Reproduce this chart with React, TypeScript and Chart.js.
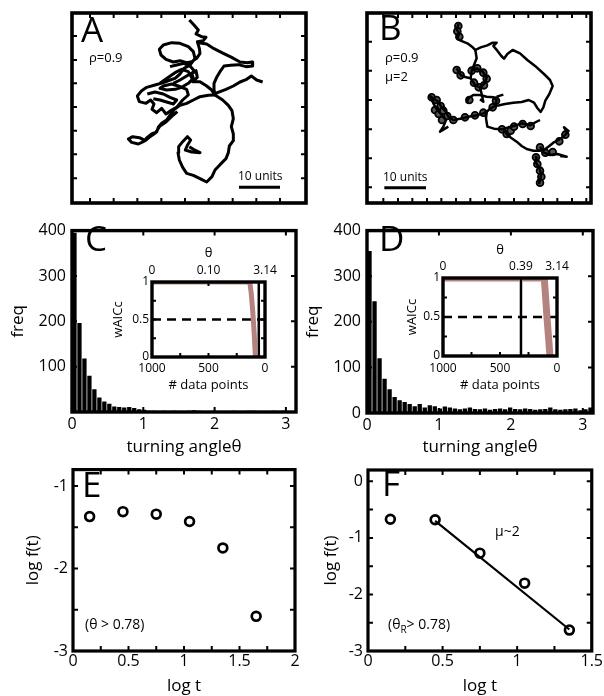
import React, { useEffect, useRef } from 'react';
import { Chart, registerables } from 'chart.js';

Chart.register(...registerables);

const FONT = "'Open Sans', 'Noto Sans', 'DejaVu Sans', sans-serif";
const BROWN = '#b5837f';
Chart.defaults.font.family = FONT;
Chart.defaults.color = '#000';

// ---------------- Panel A: track (image units, y grows downward) ----------------
const trackA1 = [[388,60],[402,75],[415,90],[408,102],[425,110],[438,112],[430,122],[412,125],[418,145],[420,160],[410,175],[395,185],[380,188],[360,182],[340,186],[318,178],[303,165],[298,148],[310,135],[335,128],[360,130],[385,140],[400,155],[405,175],[390,195],[372,205],[360,222],[345,235],[330,240],[310,248],[285,255],[260,262],[245,272],[232,288],[238,305],[258,310],[272,300],[282,312],[276,328],[290,338],[305,325],[318,342],[335,330],[350,322],[368,300],[385,285],[380,268],[355,258],[335,252],[310,258],[300,265],[320,270],[345,268],[365,262],[385,250],[400,235],[395,220],[408,212],[412,232],[398,245],[420,245],[440,258],[455,270],[462,282],[480,275],[498,268],[520,258],[540,246],[560,238],[574,228],[590,240],[608,246]];
const trackA2 = [[415,128],[440,132],[462,146],[490,160],[515,172],[540,186],[562,188],[576,186],[578,198],[558,200],[535,194],[512,196],[492,198],[480,215],[470,232],[462,250],[462,268],[465,285]];
const trackA3 = [[465,285],[445,286],[420,290],[400,300],[380,310],[360,316],[345,326],[330,345],[320,360],[305,370],[295,382],[290,396],[275,402],[262,412],[250,425],[235,432],[215,427],[205,417],[218,410],[238,413],[256,422],[270,410],[285,400],[300,378],[318,366],[340,345],[352,335]];
const trackA4 = [[465,285],[488,300],[505,316],[516,332],[520,356],[514,380],[520,402],[520,422],[508,438],[505,458],[498,476],[480,494],[465,510],[456,530],[440,546],[420,536],[400,526],[380,520],[368,502],[358,480],[354,458],[356,440],[368,425],[382,410],[392,420],[382,436],[376,450],[395,456],[420,458],[400,448],[388,440]];
const trackA5 = [[300,250],[322,234],[345,218],[365,208],[385,215],[398,238]];
const trackA6 = [[330,200],[350,195],[372,190],[392,200],[405,215],[385,225],[360,240],[340,250]];
const trackA7 = [[262,282],[285,276],[310,282],[330,292],[350,300],[340,312],[320,306],[300,300],[280,296]];
const scaleBarA = [[537,562],[660,562]];
const ticksAx = [90,161,232,304,375,446,518,589,660];
const ticksAy = [108,180,250,321,392,463,535];

// ---------------- Panel B: track with pauses ----------------
const trackB1 = [[356,72],[350,88],[358,100],[352,115],[362,122],[382,130],[398,142],[406,150],[422,142],[442,136],[458,128],[470,128],[460,138],[472,152],[484,168],[492,176],[502,162],[518,150],[540,160],[562,180],[590,202],[612,222],[630,240],[638,258],[628,282],[616,302],[610,322],[602,336],[592,324],[582,308],[566,300],[545,306],[520,308],[495,312],[478,316],[465,318]];
const trackB2 = [[406,150],[410,175],[402,195],[395,212],[392,235],[405,255],[420,262],[434,250],[440,232],[428,215],[410,205],[395,212]];
const trackB3 = [[420,262],[425,282],[430,305],[420,298]];
const trackB4 = [[350,205],[362,225],[378,232],[392,235]];
const trackB5 = [[465,318],[452,325],[440,335],[430,340],[410,346],[385,350],[360,356],[340,360],[325,350],[318,335],[305,322],[295,305],[280,295],[270,288],[280,310],[292,330],[305,345],[318,360],[310,380],[300,395],[325,380]];
const trackB6 = [[465,318],[470,300],[460,292],[440,290],[420,285],[400,285],[385,295],[380,310]];
const trackB7 = [[440,335],[438,355],[442,380],[462,386],[485,388],[505,382],[522,378],[545,370],[570,376],[588,366],[600,360]];
const trackB8 = [[490,388],[500,402],[515,415],[530,425],[545,438],[560,447],[580,452],[600,452],[615,448],[628,438],[640,428],[655,420],[670,410],[682,398],[672,382],[688,395]];
const trackB9 = [[600,440],[612,458],[630,465],[652,462],[680,470],[660,468]];
const trackB10 = [[590,470],[588,488],[598,505],[604,522],[600,540],[598,550],[595,538]];
const trackB11 = [[470,290],[490,284]];
const loopsB = [[355,78],[352,94],[358,110],[350,210],[362,226],[395,212],[412,205],[430,218],[440,236],[432,256],[416,262],[402,248],[275,292],[290,300],[302,318],[285,330],[296,342],[310,332],[322,348],[306,360],[340,360],[375,352],[405,346],[430,338],[458,322],[468,302],[388,300],[486,388],[500,402],[512,392],[522,380],[548,372],[572,378],[600,442],[616,458],[638,456],[658,424],[676,404],[588,472],[592,492],[600,512],[604,530],[600,548]];
const scaleBarB = [[133,563],[258,563]];
const ticksBx = [130,174,217,261,304,348,391,435,478,522,565,609,652,696,739];
const ticksBy = [125,212,300,388,475,562];

// ---------------- Panels C, D: turning-angle histograms ----------------
const thetaMax = Math.PI;
const histC = [395,196,118,80,50,32,23,18,12,11,10,11,9,6,5,3,3,2,3,2,3,2,2,3,4,3,2,2,3,2,2,2,3,2,2,3,3,2,2,2,3,2,3,2,2];
const histD = [355,245,120,75,52,35,28,24,20,15,20,12,17,15,10,14,12,10,8,10,12,9,8,10,7,9,10,8,12,9,8,10,9,7,8,9,12,8,7,8,9,10,6,8,12];

// insets: wAICc vs # data points
const insetBrownC = [[1000,1],[135,1],[122,0.85],[108,0.6],[95,0.3],[85,0]];
const insetCutC = 55;
const topTickValsC = [1000, 500, 0];
const topTickLabelsC = ['0', '0.10', '3.14'];
const insetBrownD = [[1000,1],[112,1],[102,0.8],[88,0.5],[72,0.2],[62,0]];
const insetCutD = 316;
const topTickValsD = [1000, 316, 0];
const topTickLabelsD = ['0', '0.39', '3.14'];

// ---------------- Panels E, F: log f(t) vs log t ----------------
const logtE = [0.15, 0.45, 0.75, 1.05, 1.35, 1.65];
const logfE = [-1.37, -1.31, -1.34, -1.43, -1.75, -2.58];
const logtF = [0.15, 0.45, 0.75, 1.05, 1.35];
const logfF = [-0.67, -0.68, -1.27, -1.80, -2.63];
const fitF = [[0.45, -0.70], [1.35, -2.62]];

// ---------------- helpers ----------------
type Rect = { x: number; y: number; w: number; h: number };
const pts = (a: number[][]) => a.map(([x, y]) => ({ x, y }));
const noGrid = { display: false, drawTicks: false };
const noBorder = { display: false };
const fixed = (size: number) => (s: any) => { if (s.isHorizontal()) s.height = size; else s.width = size; };
const setTicks = (vals: number[]) => (s: any) => { s.ticks = vals.map((v) => ({ value: v })); };
const font = (size: number) => ({ size, family: FONT });

function framePlugin(sides: any, width = 3, tickLen = 5) {
  return {
    id: 'frame',
    afterDatasetsDraw(chart: any) {
      const { ctx, chartArea: a, scales } = chart;
      ctx.save();
      ctx.strokeStyle = '#000';
      ctx.lineWidth = 2;
      ctx.beginPath();
      for (const side of ['bottom', 'top', 'left', 'right']) {
        const id = sides[side];
        if (!id) continue;
        const s = scales[id];
        for (const t of s.ticks) {
          const p = s.getPixelForValue(t.value);
          if (side === 'bottom' || side === 'top') {
            if (p < a.left + 2 || p > a.right - 2) continue;
            const y0 = side === 'bottom' ? a.bottom : a.top;
            ctx.moveTo(p, y0);
            ctx.lineTo(p, side === 'bottom' ? y0 - tickLen : y0 + tickLen);
          } else {
            if (p < a.top + 2 || p > a.bottom - 2) continue;
            const x0 = side === 'left' ? a.left : a.right;
            ctx.moveTo(x0, p);
            ctx.lineTo(side === 'left' ? x0 + tickLen : x0 - tickLen, p);
          }
        }
      }
      ctx.stroke();
      ctx.lineWidth = width;
      ctx.lineJoin = 'miter';
      ctx.strokeRect(a.left, a.top, a.right - a.left, a.bottom - a.top);
      ctx.restore();
    },
  };
}

type Part = { t: string; size: number; dy?: number };
type Label = { x: number; y: number; parts: Part[] };
const L = (x: number, y: number, t: string, size: number): Label => ({ x, y, parts: [{ t, size }] });

function textPlugin(items: Label[], rect: Rect) {
  return {
    id: 'texts',
    afterDraw(chart: any) {
      const ctx = chart.ctx;
      ctx.save();
      ctx.fillStyle = '#000';
      ctx.textBaseline = 'alphabetic';
      ctx.textAlign = 'left';
      for (const it of items) {
        let x = it.x - rect.x;
        const y = it.y - rect.y;
        for (const p of it.parts) {
          ctx.font = `${p.size}px ${FONT}`;
          ctx.fillText(p.t, x, y + (p.dy || 0));
          x += ctx.measureText(p.t).width;
        }
      }
      ctx.restore();
    },
  };
}

function baseOptions(padding: any) {
  return {
    responsive: false,
    maintainAspectRatio: false,
    animation: false,
    devicePixelRatio: 1,
    events: [],
    layout: { padding },
    plugins: { legend: { display: false }, tooltip: { enabled: false }, title: { display: false } },
  };
}

const lineDs = (data: number[][], width: number, extra: any = {}) => ({
  type: 'line',
  data: pts(data),
  borderColor: '#000',
  borderWidth: width,
  pointRadius: 0,
  tension: 0,
  fill: false,
  borderJoinStyle: 'round',
  ...extra,
});

function hiddenAxis(min: number, max: number, ticks: number[], reverse = false) {
  return {
    type: 'linear', min, max, reverse,
    grid: noGrid, border: noBorder,
    ticks: { display: false },
    afterBuildTicks: setTicks(ticks),
    afterFit: fixed(0),
  };
}

// ---------------- configs ----------------
const rectA: Rect = { x: 60, y: 0, w: 260, h: 215 };
const rectB: Rect = { x: 340, y: 0, w: 264, h: 215 };
const rectC: Rect = { x: 0, y: 215, w: 302, h: 243 };
const rectD: Rect = { x: 300, y: 215, w: 304, h: 243 };
const rectIC: Rect = { x: 100, y: 240, w: 190, h: 155 };
const rectID: Rect = { x: 390, y: 236, w: 190, h: 158 };
const rectE: Rect = { x: 0, y: 455, w: 304, h: 241 };
const rectF: Rect = { x: 300, y: 455, w: 304, h: 241 };

function trackConfig(rect: Rect, strands: number[][][], bar: number[][], loops: number[][] | null, xr: number[], tx: number[], ty: number[], pad: any, labels: Label[], lw: number) {
  const datasets: any[] = strands.map((s) => lineDs(s, lw));
  datasets.push(lineDs(bar, 3, { borderCapStyle: 'butt' }));
  if (loops) {
    datasets.push({
      type: 'line', data: pts(loops), showLine: false,
      pointRadius: 3.4, pointBorderWidth: 1.8, pointBorderColor: '#000', pointBackgroundColor: '#555',
    });
  }
  return {
    type: 'line',
    data: { datasets },
    options: {
      ...baseOptions(pad),
      scales: { x: hiddenAxis(xr[0], xr[1], tx), y: hiddenAxis(39, 609, ty, true) },
    },
    plugins: [framePlugin({ bottom: 'x', top: 'x', left: 'y', right: 'y' }, 3.6, 5), textPlugin(labels, rect)],
  };
}

function histConfig(rect: Rect, values: number[], yW: number, xH: number, pad: any, showZero: boolean, freqPad: number, labels: Label[]) {
  const binW = thetaMax / values.length;
  return {
    type: 'bar',
    data: {
      datasets: [{
        data: values.map((v, i) => ({ x: (i + 0.5) * binW, y: v })),
        backgroundColor: '#000', borderWidth: 0, barPercentage: 0.86, categoryPercentage: 1,
      }],
    },
    options: {
      ...baseOptions(pad),
      scales: {
        x: {
          type: 'linear', min: 0, max: thetaMax, offset: false,
          grid: { ...noGrid, offset: false }, border: noBorder,
          ticks: { stepSize: 1, includeBounds: false, font: font(16), padding: 3, maxRotation: 0, callback: (v: number) => String(v) },
          title: { display: true, text: 'turning angleθ', font: font(17), padding: { top: 0, bottom: 1 } },
          afterFit: fixed(xH),
        },
        y: {
          type: 'linear', min: 0, max: 400,
          grid: noGrid, border: noBorder,
          ticks: { stepSize: 100, font: font(16), padding: 6, callback: (v: number) => (v === 0 && !showZero ? '' : String(v)) },
          title: { display: true, text: 'freq', font: font(17), padding: { top: freqPad, bottom: 0 } },
          afterFit: fixed(yW),
        },
      },
    },
    plugins: [framePlugin({ bottom: 'x', top: 'x', left: 'y', right: 'y' }, 3.4, 5), textPlugin(labels, rect)],
  };
}

function insetConfig(rect: Rect, brown: number[][], brownW: number, cut: number, topVals: number[], topLabels: string[], yW: number, pad: any, thetaPad: number, wPad: number, botPad: number, bTitlePad: number) {
  return {
    type: 'line',
    data: {
      datasets: [
        lineDs(brown, brownW, { borderColor: BROWN, clip: 0, borderJoinStyle: 'round' }),
        lineDs([[1000, 0.5], [0, 0.5]], 2.5, { borderDash: [9, 6], borderCapStyle: 'butt' }),
        lineDs([[cut, 0], [cut, 1]], 2.5, { borderCapStyle: 'butt' }),
      ],
    },
    options: {
      ...baseOptions(pad),
      scales: {
        x: {
          type: 'linear', min: 0, max: 1000, reverse: true, position: 'bottom',
          grid: noGrid, border: noBorder,
          ticks: { stepSize: 250, font: font(12), padding: botPad, maxRotation: 0, autoSkip: false, callback: (v: number) => (v % 500 === 0 ? String(v) : '') },
          title: { display: true, text: '# data points', font: font(13), padding: { top: 0, bottom: bTitlePad } },
          afterFit: fixed(38),
        },
        x2: {
          type: 'linear', min: 0, max: 1000, reverse: true, position: 'top',
          grid: noGrid, border: noBorder,
          afterBuildTicks: setTicks(topVals),
          ticks: { font: font(12), padding: 4, maxRotation: 0, autoSkip: false, callback: (_v: number, i: number) => topLabels[i] },
          title: { display: true, text: 'θ', font: font(13), padding: { top: thetaPad, bottom: 0 } },
          afterFit: fixed(42),
        },
        y: {
          type: 'linear', min: 0, max: 1,
          grid: noGrid, border: noBorder,
          ticks: { stepSize: 0.25, font: font(12), padding: 3, callback: (v: number) => (v === 0 ? '0' : v === 0.5 ? '0.5' : v === 1 ? '1' : '') },
          title: { display: true, text: 'wAICc', font: font(13), padding: { top: wPad, bottom: 0 } },
          afterFit: fixed(yW),
        },
      },
    },
    plugins: [framePlugin({ bottom: 'x', top: 'x2', left: 'y', right: 'y' }, 3.4, 4)],
  };
}

function logConfig(rect: Rect, xs: number[], ys: number[], fit: number[][] | null, xMax: number, yMin: number, yMax: number, yW: number, pad: any, titlePad: number, labels: Label[]) {
  const datasets: any[] = [{
    type: 'line', data: xs.map((x, i) => ({ x, y: ys[i] })), showLine: false,
    pointRadius: 4.4, pointBorderWidth: 2.7, pointBorderColor: '#000', pointBackgroundColor: 'rgba(0,0,0,0)',
  }];
  if (fit) datasets.unshift(lineDs(fit, 2.2));
  return {
    type: 'line',
    data: { datasets },
    options: {
      ...baseOptions(pad),
      scales: {
        x: {
          type: 'linear', min: 0, max: xMax,
          grid: noGrid, border: noBorder,
          ticks: { stepSize: 0.25, includeBounds: false, font: font(16), padding: 1, maxRotation: 0, autoSkip: false, callback: (v: number) => (Number.isInteger(v * 2) ? String(v) : '') },
          title: { display: true, text: 'log t', font: font(17), padding: { top: 0, bottom: 0 } },
          afterFit: fixed(45),
        },
        y: {
          type: 'linear', min: yMin, max: yMax,
          grid: noGrid, border: noBorder,
          ticks: { stepSize: 0.5, includeBounds: false, font: font(16), padding: 5, autoSkip: false, callback: (v: number) => (Number.isInteger(v) ? String(v) : '') },
          title: { display: true, text: 'log f(t)', font: font(17), padding: { top: titlePad, bottom: 0 } },
          afterFit: fixed(yW),
        },
      },
    },
    plugins: [framePlugin({ bottom: 'x', top: 'x', left: 'y', right: 'y' }, 3.2, 5), textPlugin(labels, rect)],
  };
}

const configs: { rect: Rect; make: () => any }[] = [
  {
    rect: rectA,
    make: () => trackConfig(rectA, [trackA1, trackA2, trackA3, trackA4, trackA5, trackA6, trackA7], scaleBarA, null, [36, 738], ticksAx, ticksAy,
      { left: 12, top: 13, right: 14, bottom: 12 },
      [L(81, 42, 'A', 35), L(89, 62, 'ρ=0.9', 13), L(238, 180, '10 units', 12)], 3),
  },
  {
    rect: rectB,
    make: () => trackConfig(rectB, [trackB1, trackB2, trackB3, trackB4, trackB5, trackB6, trackB7, trackB8, trackB9, trackB10, trackB11], scaleBarB, loopsB, [81, 753], ticksBx, ticksBy,
      { left: 27, top: 13, right: 13, bottom: 12 },
      [L(379, 40, 'B', 35), L(385, 62, 'ρ=0.9', 13), L(385, 81, 'μ=2', 13), L(383, 181, '10 units', 12)], 2.5),
  },
  {
    rect: rectC,
    make: () => histConfig(rectC, histC, 72, 46, { left: 0, top: 10, right: 6, bottom: 0 }, false, 8, [L(85, 251, 'C', 35)]),
  },
  {
    rect: rectD,
    make: () => histConfig(rectD, histD, 67, 45, { left: 0, top: 10, right: 11, bottom: 0 }, true, 3, [L(379, 251, 'D', 35)]),
  },
  {
    rect: rectIC,
    make: () => insetConfig(rectIC, insetBrownC, 5, insetCutC, topTickValsC, topTickLabelsC, 52, { left: 0, top: 0, right: 25, bottom: 0 }, 5, 10, 4, 2),
  },
  {
    rect: rectID,
    make: () => insetConfig(rectID, insetBrownD, 7, insetCutD, topTickValsD, topTickLabelsD, 53, { left: 0, top: 0, right: 23, bottom: 0 }, 6, 14, 5, 1),
  },
  {
    rect: rectE,
    make: () => logConfig(rectE, logtE, logfE, null, 2, -3, -0.8, 73, { left: 0, top: 14, right: 9, bottom: 0 }, 23,
      [L(82, 497, 'E', 35), L(85, 629, '(θ > 0.78)', 14)]),
  },
  {
    rect: rectF,
    make: () => logConfig(rectF, logtF, logfF, fitF, 1.5, -3, 0.2, 68, { left: 0, top: 15, right: 11, bottom: 0 }, 21,
      [L(382, 496, 'F', 35), { x: 388, y: 629, parts: [{ t: '(θ', size: 14 }, { t: 'R', size: 10, dy: 4 }, { t: '> 0.78)', size: 14 }] }, L(495, 536, 'μ~2', 14)]),
  },
];

function ChartCanvas({ rect, make }: { rect: Rect; make: () => any }) {
  const ref = useRef<HTMLCanvasElement | null>(null);
  useEffect(() => {
    if (!ref.current) return;
    const chart = new Chart(ref.current, make());
    return () => chart.destroy();
  }, []);
  return (
    <canvas
      ref={ref}
      width={rect.w}
      height={rect.h}
      style={{ position: 'absolute', left: rect.x, top: rect.y, width: rect.w, height: rect.h }}
    />
  );
}

export default function App() {
  return (
    <div style={{ position: 'absolute', left: 0, top: 0, width: 604, height: 696, overflow: 'hidden', background: '#fff' }}>
      {configs.map((c, i) => (
        <ChartCanvas key={i} rect={c.rect} make={c.make} />
      ))}
    </div>
  );
}
